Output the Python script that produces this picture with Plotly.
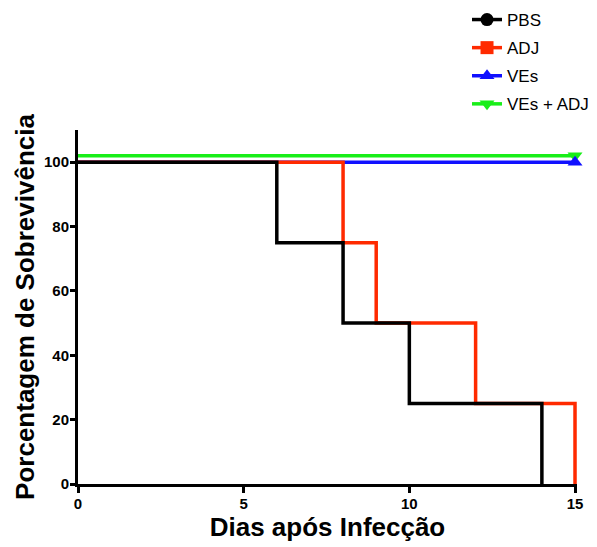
import plotly.graph_objects as go

# Data
series_names = ["PBS", "ADJ", "VEs", "VEs + ADJ"]
pbs_days = [0, 6, 8, 10, 14]
pbs_surv = [100, 75, 50, 25, 0]
adj_days = [0, 8, 9, 12, 15]
adj_surv = [100, 75, 50, 25, 0]
ves_days = [0, 15]
ves_surv = [100, 100]
vesadj_days = [0, 15]
vesadj_surv = [102, 102]
x_ticks = [0, 5, 10, 15]
y_ticks = [0, 20, 40, 60, 80, 100]

colors = {"PBS": "#000000", "ADJ": "#ff2a00", "VEs": "#1010ff", "VEs + ADJ": "#18ee18"}
symbols = {"PBS": "circle", "ADJ": "square", "VEs": "triangle-up", "VEs + ADJ": "triangle-down"}

fig = go.Figure()

LW = 3.5
MS = 13
# draw order: VEs, VEs+ADJ, ADJ, PBS (PBS on top)
fig.add_trace(go.Scatter(x=ves_days, y=ves_surv, mode="lines", line=dict(color=colors["VEs"], width=LW, shape="hv"),
                         showlegend=False, cliponaxis=False))
fig.add_trace(go.Scatter(x=vesadj_days, y=vesadj_surv, mode="lines", line=dict(color=colors["VEs + ADJ"], width=LW, shape="hv"),
                         showlegend=False, cliponaxis=False))
fig.add_trace(go.Scatter(x=[vesadj_days[-1]], y=[vesadj_surv[-1]], mode="markers",
                         marker=dict(symbol=symbols["VEs + ADJ"], size=MS, color=colors["VEs + ADJ"]),
                         showlegend=False, cliponaxis=False))
fig.add_trace(go.Scatter(x=[ves_days[-1]], y=[ves_surv[-1]], mode="markers",
                         marker=dict(symbol=symbols["VEs"], size=MS, color=colors["VEs"]),
                         showlegend=False, cliponaxis=False))
fig.add_trace(go.Scatter(x=adj_days, y=adj_surv, mode="lines", line=dict(color=colors["ADJ"], width=LW, shape="hv"),
                         showlegend=False, cliponaxis=False))
fig.add_trace(go.Scatter(x=pbs_days, y=pbs_surv, mode="lines", line=dict(color=colors["PBS"], width=LW, shape="hv"),
                         showlegend=False, cliponaxis=False))

# legend entries
for i, name in enumerate(series_names):
    fig.add_trace(go.Scatter(x=[None], y=[None], mode="lines+markers", name=name,
                             line=dict(color=colors[name], width=LW),
                             marker=dict(symbol=symbols[name], size=MS, color=colors[name]),
                             legendgroup=name, legendrank=i + 1))

FONT = "Liberation Sans, Arial, sans-serif"

# page has an 8px body margin, so the figure is sized to the visible area
fig.update_layout(
    width=589, height=539,
    margin=dict(l=70, r=20, t=122, b=63, autoexpand=False),
    paper_bgcolor="white", plot_bgcolor="white",
    font=dict(family=FONT, color="black"),
    legend=dict(x=0.7796, y=1.3616, xanchor="left", yanchor="top", traceorder="grouped",
                tracegroupgap=3, font=dict(size=17, family=FONT, color="black"),
                bgcolor="rgba(0,0,0,0)"),
    xaxis=dict(range=[0, 15.06], tickvals=x_ticks, ticktext=[str(v) for v in x_ticks],
               showline=True, linecolor="black", linewidth=3, ticks="outside", ticklen=6,
               tickwidth=3, tickcolor="black", showgrid=False, zeroline=False, automargin=False,
               tickfont=dict(size=15, family=FONT, weight="bold"), ticklabelstandoff=-2,
               title=dict(text="Dias após Infecção", font=dict(size=26, family=FONT, weight="bold"), standoff=6)),
    yaxis=dict(range=[0, 110], tickvals=y_ticks, ticktext=[str(v) for v in y_ticks],
               showline=True, linecolor="black", linewidth=3, ticks="outside", ticklen=5,
               tickwidth=3, tickcolor="black", showgrid=False, zeroline=False, automargin=False,
               tickfont=dict(size=15, family=FONT, weight="bold"), ticklabelstandoff=-2,
               title=dict(text="Porcentagem de Sobrevivência", font=dict(size=26, family=FONT, weight="bold"), standoff=2)),
)

fig.write_html("out.html")
